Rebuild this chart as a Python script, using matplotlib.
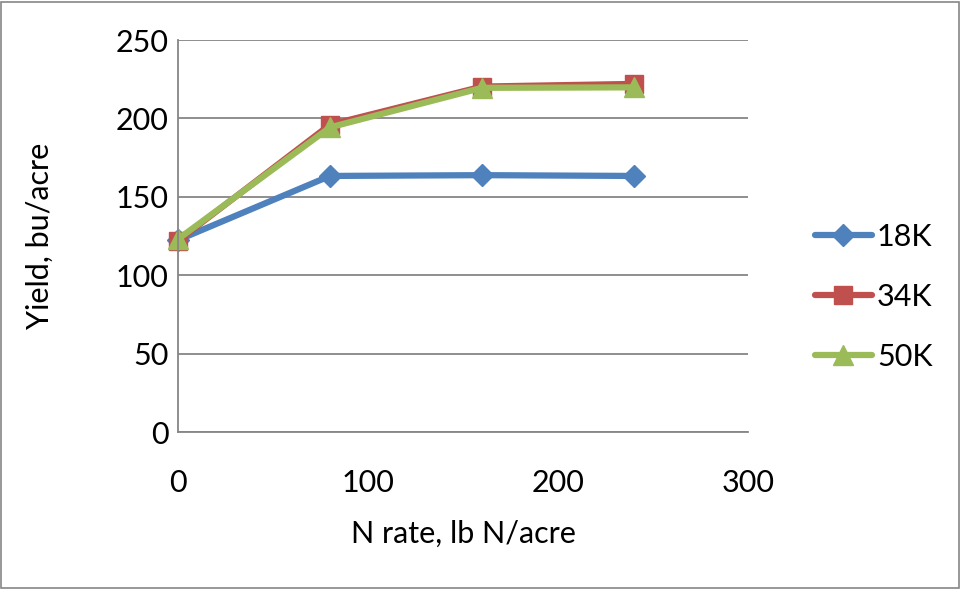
import matplotlib
matplotlib.use("Agg")
import matplotlib.pyplot as plt
from matplotlib.patches import Rectangle

n_rate = [0, 80, 160, 240]
yield_18k = [122.4, 163.3, 163.8, 163.3]
yield_34k = [122.0, 196.0, 220.3, 222.0]
yield_50k = [123.0, 194.3, 219.5, 219.8]
series_labels = ["18K", "34K", "50K"]
x_ticks = [0, 100, 200, 300]
y_ticks = [0, 50, 100, 150, 200, 250]

plt.rcParams['font.family'] = ['Lato', 'DejaVu Sans']

fig = plt.figure(figsize=(9.61, 5.89), dpi=100)
fig.patches.append(Rectangle((0.001, 0.002), 0.997, 0.995, transform=fig.transFigure,
                             fill=False, edgecolor='#868686', linewidth=1.2))
ax = fig.add_axes([178/961, 1-432/589, (748-178)/961, (432-40)/589])

grid_c = '#868686'
ax.set_xlim(0, 300)
ax.set_ylim(0, 250)
ax.set_xticks(x_ticks)
ax.set_yticks(y_ticks)
ax.yaxis.grid(True, color=grid_c, linewidth=1.3)
ax.set_axisbelow(True)
for s in ['top', 'right']:
    ax.spines[s].set_visible(False)
for s in ['left', 'bottom']:
    ax.spines[s].set_color(grid_c)
    ax.spines[s].set_linewidth(1.3)
ax.tick_params(axis='both', length=0, labelsize=22, colors='black')
ax.tick_params(axis='x', pad=27)
ax.tick_params(axis='y', pad=7)

colors = ['#4F81BD', '#C0504D', '#9BBB59']
markers = ['D', 's', '^']
sizes = [11, 13, 14]
for ys, c, m, ms, lab in zip([yield_18k, yield_34k, yield_50k], colors, markers, sizes, series_labels):
    ax.plot(n_rate, ys, color=c, marker=m, markersize=ms, linewidth=4.5,
            label=lab, clip_on=False, solid_capstyle='round')

ax.set_xlabel("N rate, lb N/acre", fontsize=22, labelpad=16)
ax.set_ylabel("Yield, bu/acre", fontsize=22, labelpad=44)

leg = fig.legend(loc='center left', bbox_to_anchor=(815/961, 1-297/589), frameon=False,
                 fontsize=22, handlelength=1.85, handletextpad=0.18, labelspacing=1.05,
                 borderpad=0, borderaxespad=0)

fig.savefig("out.png", dpi=100)
